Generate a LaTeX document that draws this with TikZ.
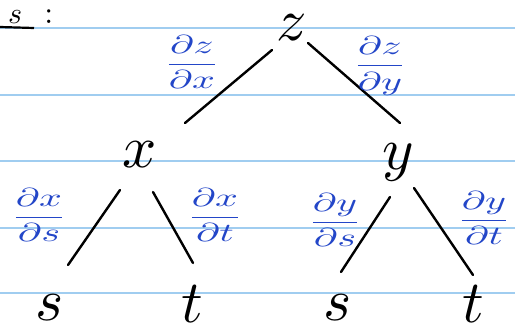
\documentclass[tikz,border=0pt]{standalone}
\usepackage{graphicx}
\usepackage{amsmath}
\definecolor{ruleblue}{RGB}{160,205,240}
\definecolor{inkblue}{RGB}{35,70,200}
\newcommand{\bigvar}[1]{\scalebox{6}{$#1$}}
\newcommand{\pd}[2]{\scalebox{4}[2.6]{$\dfrac{\partial #1}{\partial #2}$}}
\begin{document}
\begin{tikzpicture}[x=1pt,y=-1pt,
  rule/.style={draw=ruleblue, line width=1.3pt},
  edge/.style={draw=black, line width=2.4pt, line cap=round},
  var/.style={inner sep=0pt},
  deriv/.style={inner sep=0pt, text=inkblue}]
  \useasboundingbox (0,0) rectangle (515,326);
  \clip (0,0) rectangle (515,326);
  % ruled paper
  \foreach \ry in {28,95,161,228,293}
    \draw[rule] (0,\ry) -- (515,\ry);
  % heading fragment
  \node[anchor=base west, inner sep=0pt] (head) at (8,24)
    {\scalebox{3}{$s$}\hspace{22pt}\scalebox{3.2}{:}};
  \draw[line width=2.2pt] (0,27) -- (34,28);
  % variables
  \node[var] (z) at (292,28) {\bigvar{z}};
  \node[var] (x) at (140,155) {\bigvar{x}};
  \node[var] (y) at (398,162) {\bigvar{y}};
  \node[var] (s1) at (50,308) {\bigvar{s}};
  \node[var] (t1) at (192,304) {\bigvar{t}};
  \node[var] (s2) at (338,308) {\bigvar{s}};
  \node[var] (t2) at (473,304) {\bigvar{t}};
  % branches
  \coordinate (zl) at (272,50); \coordinate (xu) at (185,123);
  \coordinate (zr) at (308,43); \coordinate (yu) at (400,123);
  \coordinate (xl) at (120,190); \coordinate (s1u) at (68,265);
  \coordinate (xr) at (153,192); \coordinate (t1u) at (193,263);
  \coordinate (yl) at (390,197); \coordinate (s2u) at (341,272);
  \coordinate (yr) at (414,188); \coordinate (t2u) at (473,275);
  \draw[edge] (zl) -- (xu);
  \draw[edge] (zr) -- (yu);
  \draw[edge] (xl) -- (s1u);
  \draw[edge] (xr) -- (t1u);
  \draw[edge] (yl) -- (s2u);
  \draw[edge] (yr) -- (t2u);
  % partial derivatives on the branches
  \node[deriv] (dzdx) at (192,62) {\pd{z}{x}};
  \node[deriv] (dzdy) at (380,66) {\pd{z}{y}};
  \node[deriv] (dxds) at (39,215) {\pd{x}{s}};
  \node[deriv] (dxdt) at (215,215) {\pd{x}{t}};
  \node[deriv] (dyds) at (335,220) {\pd{y}{s}};
  \node[deriv] (dydt) at (484,218) {\pd{y}{t}};
\end{tikzpicture}
\end{document}
